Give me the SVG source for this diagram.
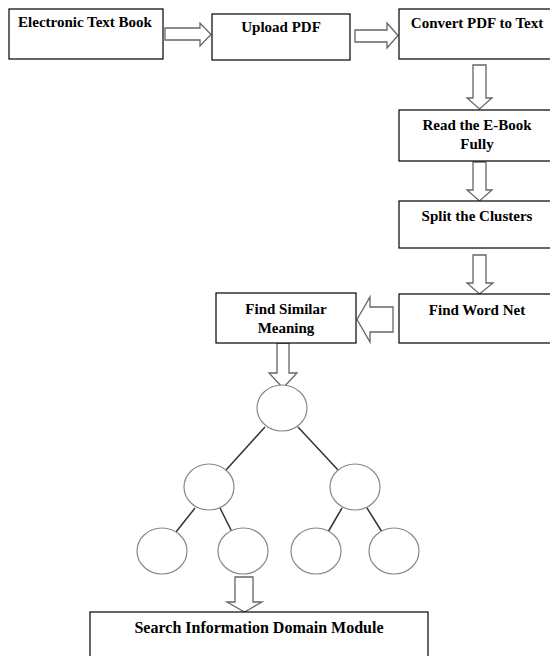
<svg xmlns="http://www.w3.org/2000/svg" width="550" height="656" viewBox="0 0 550 656">
<style>
.box{fill:#fff;stroke:#000;stroke-width:1.2}
.t{font-family:"Liberation Serif","Times New Roman",serif;font-weight:bold;font-size:15px;fill:#000;text-anchor:middle}
.arr{fill:#fff;stroke:#666;stroke-width:1.3;stroke-linejoin:miter}
.c{fill:#fff;stroke:#888;stroke-width:1.2}
.e{stroke:#333;stroke-width:1.5}
</style>
<rect width="550" height="656" fill="#fff"/>
<g id="connectors">
<polygon class="arr" points="165,28 200,28 200,23 211,34.5 200,46 200,40 165,40"/>
<polygon class="arr" points="355,30 387,30 387,23 398,35.5 387,48 387,42 355,42"/>
<polygon class="arr" points="473,65 486,65 486,98 492,98 479.5,109 467,98 473,98"/>
<polygon class="arr" points="473,162 486,162 486,190 492,190 479.5,201 467,190 473,190"/>
<polygon class="arr" points="473,255 486,255 486,283 493,283 479.5,294 467,283 473,283"/>
<polygon class="arr" points="393,307 393,332 370,332 370,342 357,319.5 370,297 370,307"/>
<polygon class="arr" points="277,343 289,343 289,373 297,373 283,388 269,373 277,373"/>
<polygon class="arr" points="235,577 253,577 253,602 262,602 244.5,612 227,602 235,602"/>
<line class="e" x1="265" y1="427" x2="226" y2="470"/>
<line class="e" x1="298" y1="427" x2="338" y2="470"/>
<line class="e" x1="195" y1="508" x2="176" y2="532"/>
<line class="e" x1="220" y1="508" x2="232" y2="532"/>
<line class="e" x1="342" y1="508" x2="328" y2="532"/>
<line class="e" x1="367" y1="508" x2="382" y2="532"/>
</g>
<g id="n1"><rect class="box" x="9" y="9" width="154" height="50"/><text class="t" x="85" y="27">Electronic Text Book</text></g>
<g id="n2"><rect class="box" x="212" y="14" width="138" height="46"/><text class="t" x="281" y="32">Upload PDF</text></g>
<g id="n3"><rect class="box" x="399" y="9" width="160" height="50"/><text class="t" x="477" y="28">Convert PDF to Text</text></g>
<g id="n4"><rect class="box" x="399" y="110" width="160" height="51"/><text class="t" x="477" y="130">Read the E-Book</text><text class="t" x="477" y="149">Fully</text></g>
<g id="n5"><rect class="box" x="399" y="201" width="160" height="47"/><text class="t" x="477" y="221">Split the Clusters</text></g>
<g id="n6"><rect class="box" x="399" y="294" width="160" height="49"/><text class="t" x="477" y="315">Find Word Net</text></g>
<g id="n7"><rect class="box" x="216" y="293" width="140" height="50"/><text class="t" x="286" y="314">Find Similar</text><text class="t" x="286" y="333">Meaning</text></g>
<g id="tree">
<ellipse id="root" class="c" cx="282" cy="408" rx="25" ry="23"/>
<ellipse id="l1" class="c" cx="209" cy="487" rx="25" ry="23"/>
<ellipse id="r1" class="c" cx="355" cy="487" rx="25" ry="23"/>
<ellipse id="l2a" class="c" cx="162" cy="551" rx="25" ry="23"/>
<ellipse id="l2b" class="c" cx="243" cy="551" rx="25" ry="23"/>
<ellipse id="r2a" class="c" cx="316" cy="551" rx="25" ry="23"/>
<ellipse id="r2b" class="c" cx="394" cy="551" rx="25" ry="23"/>
</g>
<g id="n8"><rect class="box" x="90" y="612" width="338" height="60"/><text class="t" x="259" y="633" style="font-size:16px">Search Information Domain Module</text></g>
</svg>
